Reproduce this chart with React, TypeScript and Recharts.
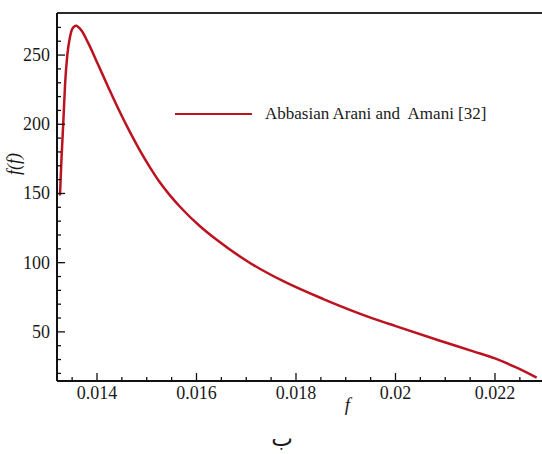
import { LineChart, Line, XAxis, YAxis, Legend, ReferenceLine } from 'recharts'

// friction factor f and the curve value f(f)
const fValues = [
  0.013256, 0.013286, 0.013323, 0.013357, 0.013403, 0.013457, 0.013504, 0.013578, 0.013692, 0.013825,
  0.014026, 0.014227, 0.014428, 0.014663, 0.014864, 0.015065, 0.015266, 0.015467, 0.015668, 0.01607,
  0.016406, 0.017075, 0.017745, 0.018549, 0.019554, 0.01999, 0.020894, 0.021564, 0.022, 0.022436,
  0.022838,
]
const ffValues = [
  148.5, 175, 201.6, 228, 250, 263, 269, 271.2, 267.5, 258.6,
  242.8, 226.8, 211.2, 194.3, 181, 168.9, 157.9, 148.6, 140.4, 126.3,
  116.5, 99.8, 86.6, 73.7, 59.6, 54.3, 43.6, 35.9, 30.8, 24.1,
  16.9,
]

const xMajorTicks = [0.014, 0.016, 0.018, 0.02, 0.022]
const xMinorTicks = [0.0135, 0.0145, 0.015, 0.0155, 0.0165, 0.017, 0.0175, 0.0185, 0.019, 0.0195, 0.0205, 0.021, 0.0215, 0.0225]
const yMajorTicks = [50, 100, 150, 200, 250]
const yMinorTicks = [20, 30, 40, 60, 70, 80, 90, 110, 120, 130, 140, 160, 170, 180, 190, 210, 220, 230, 240, 260, 270]

const xDomain = [0.013196, 0.022945]
const yDomain = [14.5, 280.4]

const seriesName = 'Abbasian Arani and  Amani [32]'
const RED = '#bb1320'
const SERIF = '"Liberation Serif", "Times New Roman", serif'

const data = fValues.map((f, i) => ({ f, ff: ffValues[i] }))

function XTick({ x, y, payload }: any) {
  const major = xMajorTicks.some((t) => Math.abs(t - payload.value) < 1e-9)
  return (
    <g>
      <line x1={x} x2={x} y1={y} y2={y - (major ? 8 : 4)} stroke="#111" strokeWidth={1.3} />
      {major && (
        <text x={x} y={y + 18} textAnchor="middle" fontFamily={SERIF} fontSize={18} fill="#1a1a1a">
          {String(payload.value)}
        </text>
      )}
    </g>
  )
}

function YTick({ x, y, payload }: any) {
  const major = yMajorTicks.includes(payload.value)
  return (
    <g>
      <line x1={x} x2={x + (major ? 8 : 4)} y1={y} y2={y} stroke="#111" strokeWidth={1.3} />
      {major && (
        <text x={x - 7} y={y + 6} textAnchor="end" fontFamily={SERIF} fontSize={18} fill="#1a1a1a">
          {payload.value}
        </text>
      )}
    </g>
  )
}

function LegendBox() {
  return (
    <div style={{ display: 'flex', alignItems: 'center', fontFamily: SERIF, fontSize: 17, color: '#1a1a1a' }}>
      <span style={{ display: 'inline-block', width: 77, height: 2.5, background: RED }} />
      <span style={{ marginLeft: 13, whiteSpace: 'pre' }}>{seriesName}</span>
    </div>
  )
}

export default function App() {
  return (
    <div style={{ position: 'absolute', left: 0, top: 0, background: '#fff' }}>
      <LineChart width={542} height={454} data={data} margin={{ top: 13, right: 0, left: 0, bottom: 0 }}>
        <XAxis
          dataKey="f"
          type="number"
          domain={xDomain}
          allowDataOverflow
          ticks={[...xMajorTicks, ...xMinorTicks]}
          interval={0}
          height={73}
          tickSize={0}
          tickMargin={0}
          tickLine={false}
          tick={<XTick />}
          axisLine={{ stroke: '#111', strokeWidth: 2 }}
          label={({ viewBox }: any) => (
            <g>
              <text
                x={viewBox.x + viewBox.width * 0.599}
                y={viewBox.y + 30}
                textAnchor="middle"
                fontFamily={SERIF}
                fontStyle="italic"
                fontSize={19}
                fill="#1a1a1a"
              >
                f
              </text>
              <text x={viewBox.x + viewBox.width * 0.464} y={viewBox.y + 65} textAnchor="middle" fontFamily="DejaVu Sans" fontSize={23} fill="#1a1a1a">
                ب
              </text>
            </g>
          )}
        />
        <YAxis
          type="number"
          domain={yDomain}
          allowDataOverflow
          ticks={[...yMajorTicks, ...yMinorTicks]}
          interval={0}
          width={57}
          tickSize={0}
          tickMargin={0}
          tickLine={false}
          tick={<YTick />}
          axisLine={{ stroke: '#111', strokeWidth: 2 }}
          label={({ viewBox }: any) => {
            const cx = 14
            const cy = viewBox.y + viewBox.height * 0.41
            return (
              <text
                x={cx}
                y={cy}
                transform={`rotate(-90 ${cx} ${cy})`}
                textAnchor="middle"
                dominantBaseline="central"
                fontFamily={SERIF}
                fontStyle="italic"
                fontSize={18}
                fill="#1a1a1a"
              >
                f(f)
              </text>
            )
          }}
        />
        <ReferenceLine y={yDomain[1]} stroke="#2a2a2a" strokeWidth={2} />
        <Legend
          layout="horizontal"
          verticalAlign="middle"
          align="center"
          content={<LegendBox />}
          wrapperStyle={{ top: 104, left: 175, width: 'auto' }}
        />
        <Line
          type="monotone"
          dataKey="ff"
          name={seriesName}
          stroke={RED}
          strokeWidth={2.5}
          dot={false}
          isAnimationActive={false}
        />
      </LineChart>
    </div>
  )
}
